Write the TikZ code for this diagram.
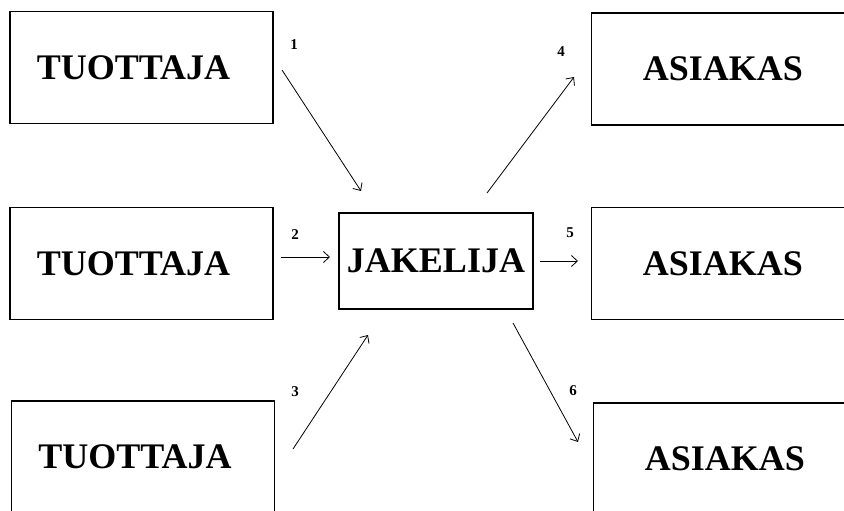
\documentclass[tikz,border=0pt]{standalone}
\usepackage{fontspec}
\setmainfont{Liberation Serif}
\usetikzlibrary{arrows.meta}
\begin{document}
\begin{tikzpicture}[x=1pt,y=-1pt,
  box/.style={draw, line width=1.2pt, minimum width=263pt, minimum height=112pt, inner sep=0pt,
    font=\fontsize{36}{40}\selectfont\bfseries},
  jbox/.style={box, minimum width=194pt, minimum height=96pt},
  num/.style={inner sep=0pt, font=\fontsize{15}{17}\selectfont\bfseries},
  flow/.style={draw, line width=0.8pt, -{Straight Barb[length=6pt,width=11pt,line width=0.8pt]}}]
\useasboundingbox (0,0) rectangle (844,511);
\clip (0,0) rectangle (844,511);
\fill[white] (0,0) rectangle (844,511);
% boxes
\node[box] (t1) at (141.5,67.5) {TUOTTAJA\hspace*{16pt}};
\node[box] (t2) at (141.5,263.5) {TUOTTAJA\hspace*{16pt}};
\node[box] (t3) at (143,457) {TUOTTAJA\hspace*{16pt}};
\node[jbox] (j) at (436,261) {JAKELIJA};
\node[box] (a1) at (723,69) {ASIAKAS};
\node[box] (a2) at (723,263.5) {ASIAKAS};
\node[box] (a3) at (725,459) {ASIAKAS};
% arrow ends
\coordinate (s1) at (282,70);  \coordinate (e1) at (361,191);
\coordinate (s2) at (281,257); \coordinate (e2) at (330,257);
\coordinate (s3) at (293,449); \coordinate (e3) at (368,335);
\coordinate (s4) at (487,193); \coordinate (e4) at (574,77);
\coordinate (s5) at (540,261); \coordinate (e5) at (578,261);
\coordinate (s6) at (513,323); \coordinate (e6) at (578,442);
\draw[flow] (s1) -- (e1);
\draw[flow] (s2) -- (e2);
\draw[flow] (s3) -- (e3);
\draw[flow] (s4) -- (e4);
\draw[flow] (s5) -- (e5);
\draw[flow] (s6) -- (e6);
% labels
\node[num] (l1) at (294,45) {1};
\node[num] (l2) at (295,235) {2};
\node[num] (l3) at (295,392) {3};
\node[num] (l4) at (561,52) {4};
\node[num] (l5) at (570,233) {5};
\node[num] (l6) at (573,391) {6};
\end{tikzpicture}
\end{document}
